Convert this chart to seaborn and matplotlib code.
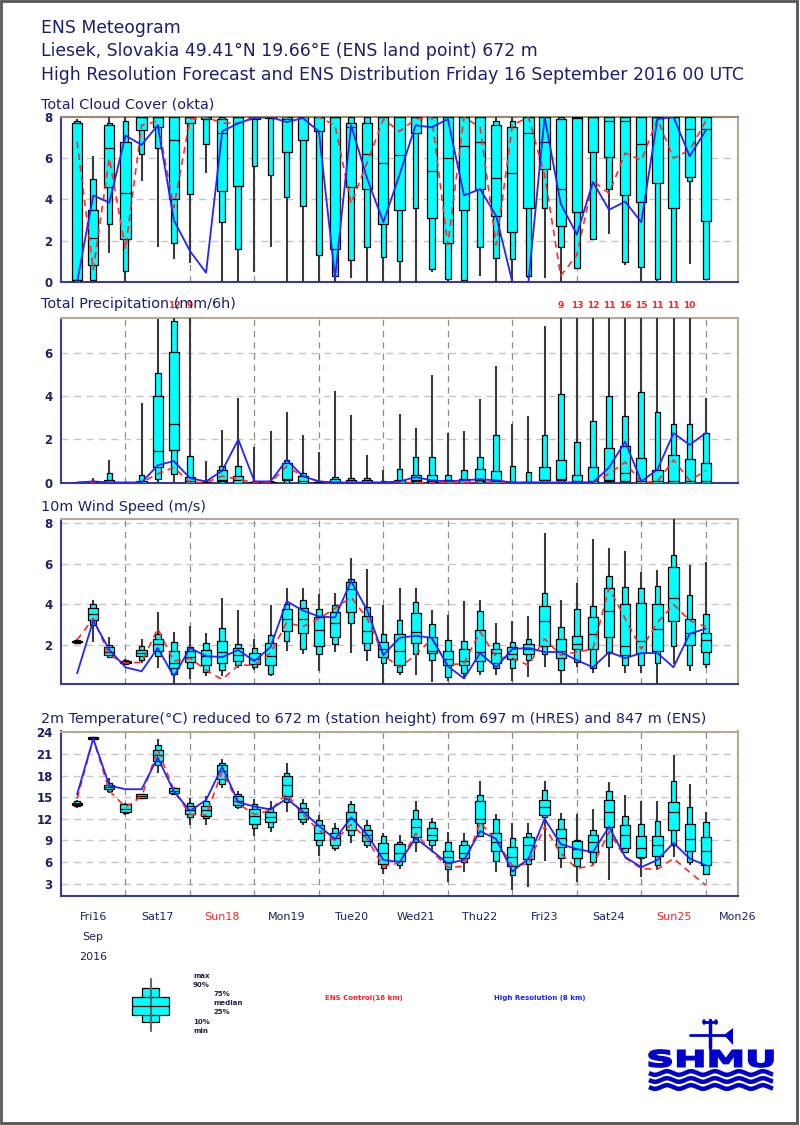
import numpy as np
import pandas as pd
import matplotlib
matplotlib.use("Agg")
import matplotlib.pyplot as plt
import seaborn as sns
from matplotlib.patches import Rectangle, PathPatch, Ellipse, Polygon
from matplotlib.textpath import TextPath
from matplotlib.font_manager import FontProperties
from matplotlib.transforms import Affine2D, blended_transform_factory

sns.set_style("white")
plt.rcParams['font.family'] = ['DejaVu Sans']

# forecast steps (hours after Fri 16 Sep 2016 00 UTC)
hours = list(range(6, 241, 6))

# Total cloud cover (okta): min, p10, p25, median, p75, p90, max, control, hres
cloud_min = [0, 0.1, 1.4, 0, 4.9, 1.7, 1.1, 0.9, 5.3, 0, 0, 0.5, 1.7, 0, 0, 0, 0, 0.2, 0, 0,
             0, 0, 0.5, 0, 0.1, 0.3, 0, 0, 0.2, 0.2, 0, 0.7, 2.1, 2.35, 0.8, 0, 0, 0, 0.85, 0.1]
cloud_p10 = [0, 0.1, 2.8, 0.55, 6.2, 6.5, 1.9, 4.25, 6.7, 2.9, 1.6, 5.6, 5.2, 4.1, 3.7, 1.3, 0.3, 1.05, 1.7, 1.2,
             1.0, 3.6, 0.65, 0.15, 0.1, 1.7, 1.15, 1.1, 0.3, 3.6, 1.7, 0.7, 2.1, 4.5, 0.95, 0.75, 0.15, 0, 4.9, 0.15]
cloud_p25 = [0.1, 0.8, 4.6, 2.1, 7.35, 7.5, 4.0, 7.7, 7.9, 4.4, 4.65, 7.9, 7.95, 6.3, 6.9, 7.3, 1.6, 4.6, 4.5, 2.8,
             3.5, 7.2, 3.1, 1.9, 3.5, 4.5, 3.2, 2.4, 3.6, 5.5, 2.7, 3.4, 6.3, 6.05, 4.2, 3.9, 4.8, 3.6, 5.1, 2.95]
cloud_med = [0.1, 2.15, 6.5, 4.3, 8, 8, 6.9, 8, 8, 7.2, 8, 8, 8, 7.9, 8, 8, 8, 7.5, 6.2, 5.75,
             6.15, 8, 5.4, 6.0, 6.6, 6.8, 5.05, 5.3, 7.2, 6.8, 4.5, 7.95, 8, 7.8, 7.8, 6.7, 8, 8, 7.4, 7.4]
cloud_p75 = [7.7, 3.5, 7.6, 6.8, 8, 8, 8, 8, 8, 7.9, 8, 8, 8, 8, 8, 8, 8, 7.7, 7.7, 8,
             8, 8, 8, 8, 8, 8, 7.6, 7.5, 8, 8, 7.9, 8, 8, 8, 8, 8, 8, 8, 8, 8]
cloud_p90 = [7.8, 5.0, 7.7, 7.8, 8, 8, 8, 8, 8, 8, 8, 8, 8, 8, 8, 8, 8, 8, 8, 8,
             8, 8, 8, 8, 8, 8, 7.8, 7.8, 8, 8, 8, 8, 8, 8, 8, 8, 8, 8, 8, 8]
cloud_max = [7.9, 6.1, 8, 8, 8, 8, 8, 8, 8, 8, 8, 8, 8, 8, 8, 8, 8, 8, 8, 8,
             8, 8, 8, 8, 8, 8, 8, 8, 8, 8, 8, 8, 8, 8, 8, 8, 8, 8, 8, 8]
cloud_ctrl = [6.8, 0.6, 6.0, 1.6, 7.6, 7.8, 3.6, 7.9, 8, 7.7, 7.7, 8, 8, 8, 8, 8, 7.6, 3.8, 5.8, 7.9,
              7.3, 7.9, 8, 1.8, 8, 7.5, 1.8, 7.6, 8, 5.2, 0.3, 1.3, 4.9, 4.3, 6.25, 5.9, 7.9, 6.0, 6.4, 7.8]
cloud_hres = [0, 4.2, 3.85, 7.1, 6.65, 7.6, 3.0, 1.5, 0.45, 7.3, 7.7, 7.95, 8, 7.75, 7.95, 7.3, 0.2, 7.6, 5.0, 2.9,
              5.2, 7.6, 7.5, 7.9, 4.2, 4.5, 3.2, 0, 0, 8, 3.8, 2.3, 4.85, 3.5, 3.9, 2.9, 7.9, 8, 6.1, 7.35]

# Total precipitation (mm/6h)
prec_min = [0] * 40
prec_p10 = [0, 0, 0, 0, 0, 0.15, 0.4, 0, 0, 0, 0, 0, 0, 0, 0, 0, 0, 0, 0, 0,
            0, 0, 0, 0, 0, 0, 0, 0, 0, 0, 0, 0, 0, 0.05, 0.05, 0, 0, 0, 0, 0]
prec_p25 = [0, 0, 0, 0, 0, 0.7, 1.5, 0, 0, 0.05, 0, 0, 0, 0.1, 0, 0, 0, 0, 0, 0,
            0, 0.05, 0.02, 0, 0, 0.05, 0, 0, 0, 0.1, 0.1, 0, 0, 0.05, 0.05, 0, 0, 0, 0, 0]
prec_med = [0, 0, 0, 0, 0, 1.45, 2.7, 0.05, 0, 0.1, 0.1, 0, 0, 0.15, 0.05, 0, 0, 0, 0, 0,
            0, 0.1, 0.05, 0, 0, 0.1, 0.05, 0, 0, 0.1, 0.15, 0.05, 0.05, 0.1, 0.45, 0.05, 0.05, 0.05, 0.05, 0.05]
prec_p75 = [0, 0.02, 0.1, 0, 0.05, 4.0, 6.05, 0.25, 0.02, 0.6, 0.3, 0.02, 0.02, 0.9, 0.3, 0.02, 0.15, 0.12, 0.1, 0.02,
            0.1, 0.35, 0.35, 0.1, 0.15, 0.65, 0.55, 0.02, 0.02, 0.7, 1.05, 0.35, 0.7, 1.6, 1.7, 1.15, 0.6, 1.3, 1.1, 0.9]
prec_p90 = [0, 0.05, 0.45, 0, 0.35, 5.1, 7.5, 1.25, 0.05, 0.75, 0.75, 0.05, 0.05, 1.05, 0.45, 0.05, 0.25, 0.2, 0.2, 0.05,
            0.65, 1.2, 1.2, 0.37, 0.6, 1.2, 2.2, 0.75, 0.5, 2.2, 4.1, 1.9, 2.85, 4.0, 3.1, 4.2, 3.3, 2.7, 2.7, 2.3]
prec_max = [0, 0.2, 1.05, 0, 3.7, 7.6, 12, 9, 1.0, 2.45, 3.95, 1.65, 2.4, 3.3, 2.2, 1.4, 4.25, 3.15, 1.3, 0.6,
            3.2, 2.55, 5.0, 2.3, 2.4, 3.9, 5.4, 2.7, 3.1, 7.3, 9, 13, 12, 11, 16, 15, 11, 11, 10, 3.95]
prec_ctrl = [0, 0, 0, 0, 0, 0.4, 0.7, 0, 0, 0.3, 0.15, 0, 0, 0.75, 0.3, 0.05, 0, 0, 0, 0,
             0, 0, 0, 0, 0, 0.05, 0, 0, 0, 0, 0, 0, 0, 0.4, 0.95, 0, 0.05, 1.05, 0.1, 0.55]
prec_hres = [0, 0.05, 0, 0, 0, 0.8, 1.0, 0.2, 0.05, 0.55, 2.0, 0.05, 0.05, 1.05, 0.3, 0.05, 0, 0, 0, 0,
             0.05, 0.25, 0.1, 0.05, 0.1, 0.15, 0.1, 0, 0, 0, 0, 0, 0, 0.7, 1.9, 0.05, 0.6, 2.3, 1.75, 2.3]

# 10m wind speed (m/s)
wind_min = [2.05, 2.15, 1.35, 1.0, 1.1, 0.85, 0.1, 0.3, 0.45, 0.45, 0.85, 0.75, 0.45, 1.7, 1.55, 0.7, 1.65, 1.6, 1.2, 0.1,
            0.5, 0.5, 0.15, 0.2, 0.3, 0.5, 0.5, 0.2, 0.4, 0.9, 0.1, 0.9, 0.6, 0.9, 0.6, 0.6, 0.1, 1.05, 0.7, 0.85]
wind_p10 = [2.1, 3.0, 1.4, 1.05, 1.25, 1.45, 0.55, 0.85, 0.65, 0.75, 1.0, 0.9, 0.55, 2.2, 1.8, 1.55, 2.05, 3.1, 1.75, 1.1,
            0.65, 1.55, 1.25, 0.4, 0.6, 0.7, 0.85, 0.85, 1.25, 1.55, 0.75, 1.15, 0.85, 1.6, 1.0, 1.0, 1.1, 1.95, 1.0, 1.05]
wind_p25 = [2.12, 3.25, 1.5, 1.1, 1.45, 1.7, 0.85, 1.15, 1.0, 1.1, 1.2, 1.05, 1.0, 2.7, 2.6, 1.95, 2.4, 3.6, 2.1, 1.4,
            1.0, 2.1, 1.6, 1.0, 1.0, 1.2, 1.1, 1.3, 1.55, 1.95, 1.35, 1.8, 1.8, 2.4, 1.5, 1.6, 1.7, 3.2, 2.0, 1.65]
wind_med = [2.15, 3.5, 1.65, 1.15, 1.6, 2.05, 1.1, 1.4, 1.45, 1.65, 1.5, 1.3, 1.45, 3.3, 3.3, 2.75, 3.1, 4.75, 2.7, 1.8,
            1.7, 2.65, 1.7, 1.3, 1.2, 1.65, 1.6, 1.55, 1.8, 3.2, 1.7, 2.05, 2.55, 3.65, 1.95, 2.2, 2.8, 4.3, 2.6, 2.25]
wind_p75 = [2.2, 3.8, 1.9, 1.2, 1.75, 2.3, 1.7, 1.7, 1.75, 2.2, 1.85, 1.6, 2.1, 3.75, 3.8, 3.35, 3.6, 5.1, 3.4, 2.15,
            2.55, 3.55, 2.4, 1.7, 1.8, 2.75, 1.8, 1.9, 2.05, 3.9, 2.3, 2.45, 3.35, 4.8, 4.0, 4.05, 4.0, 5.85, 3.3, 2.6]
wind_p90 = [2.25, 4.0, 2.0, 1.25, 1.95, 2.55, 2.15, 1.9, 2.1, 2.85, 2.05, 1.85, 2.5, 4.0, 4.2, 3.75, 3.95, 5.25, 3.85, 2.55,
            3.25, 4.1, 3.05, 2.25, 2.2, 3.65, 2.1, 2.15, 2.3, 4.55, 2.9, 3.75, 3.9, 5.4, 4.85, 4.8, 4.9, 6.45, 4.45, 3.5]
wind_max = [2.3, 4.2, 2.4, 1.3, 2.3, 3.6, 2.65, 2.95, 2.6, 4.3, 3.7, 2.3, 3.95, 4.8, 4.8, 4.5, 4.55, 6.3, 5.75, 3.95,
            4.8, 4.8, 3.7, 3.45, 4.15, 4.2, 3.1, 3.2, 3.4, 7.5, 4.2, 5.05, 7.2, 6.75, 6.6, 5.6, 5.7, 8.2, 5.95, 6.1]
wind_ctrl = [2.25, 3.3, 1.5, 1.1, 1.15, 2.8, 1.2, 1.35, 0.75, 0.3, 1.0, 1.0, 1.6, 3.1, 2.9, 3.3, 3.8, 4.35, 3.3, 1.5,
             0.9, 1.5, 2.3, 1.0, 1.1, 2.65, 1.4, 1.35, 1.0, 2.3, 1.5, 1.65, 1.8, 4.8, 3.3, 1.8, 3.1, 4.0, 3.2, 2.9]
wind_hres = [0.6, 3.2, 1.75, 0.9, 0.7, 1.85, 0.45, 1.85, 1.45, 1.4, 1.75, 1.2, 1.9, 4.15, 3.7, 3.4, 3.35, 5.15, 3.7, 1.5,
             2.35, 2.45, 2.35, 0.95, 0.35, 1.6, 0.9, 1.8, 1.85, 1.65, 1.65, 1.25, 0.9, 1.65, 1.35, 1.6, 1.6, 0.9, 2.55, 2.8]

# 2m temperature (deg C)
temp_min = [13.5, 23.0, 15.6, 12.5, 14.8, 18.3, 15.4, 11.1, 11.2, 16.2, 13.3, 9.6, 10.2, 12.9, 11.2, 6.9, 7.6, 8.6, 8.0, 4.4,
            5.0, 7.4, 7.5, 3.2, 4.6, 9.5, 4.6, 2.2, 2.5, 6.2, 5.2, 3.2, 5.55, 3.5, 7.2, 3.9, 4.85, 6.7, 5.55, 4.2]
temp_p10 = [13.8, 23.05, 15.9, 12.8, 14.85, 19.5, 15.5, 12.3, 12.1, 16.8, 13.6, 10.7, 10.9, 14.3, 11.6, 8.3, 7.9, 9.7, 8.4, 5.2,
            5.6, 8.8, 8.4, 5.1, 6.0, 9.6, 6.2, 4.2, 5.8, 12.3, 6.5, 5.5, 6.0, 8.1, 7.4, 6.5, 5.55, 8.3, 6.0, 4.4]
temp_p25 = [13.95, 23.1, 16.1, 13.0, 14.9, 20.0, 15.6, 12.6, 12.4, 17.5, 13.9, 11.3, 11.6, 15.2, 12.0, 9.0, 8.4, 10.5, 8.9, 5.8,
            6.2, 9.5, 9.0, 6.0, 6.5, 11.35, 7.5, 5.5, 6.4, 12.5, 8.1, 6.6, 7.4, 10.9, 7.9, 6.7, 6.9, 10.4, 7.6, 5.6]
temp_med = [14.1, 23.2, 16.4, 13.4, 15.2, 20.8, 15.9, 13.2, 13.2, 18.6, 14.5, 12.4, 12.3, 16.7, 12.9, 10.0, 9.3, 12.0, 9.7, 7.2,
            7.3, 10.9, 9.8, 6.7, 7.3, 12.0, 8.8, 6.7, 8.3, 13.6, 9.4, 7.8, 8.8, 13.0, 9.8, 8.0, 8.3, 12.9, 9.2, 7.5]
temp_p75 = [14.25, 23.3, 16.7, 14.0, 15.4, 21.6, 16.2, 13.8, 13.8, 19.4, 15.1, 13.3, 13.0, 17.9, 13.5, 11.2, 10.0, 13.0, 10.4, 8.7,
            8.5, 12.0, 10.7, 7.6, 8.3, 14.4, 10.1, 8.1, 9.5, 14.6, 10.6, 8.9, 9.8, 14.6, 11.1, 9.6, 9.6, 14.3, 11.25, 9.5]
temp_p90 = [14.4, 23.35, 17.0, 14.1, 15.45, 22.2, 16.3, 14.2, 14.5, 19.8, 15.5, 14.0, 13.5, 18.4, 14.2, 11.8, 10.7, 14.0, 11.2, 9.6,
            8.8, 13.2, 11.6, 8.8, 8.9, 15.3, 12.0, 9.3, 10.05, 16.0, 12.0, 9.1, 10.4, 15.8, 12.4, 11.25, 11.7, 17.2, 13.6, 11.6]
temp_max = [14.6, 23.4, 17.7, 14.2, 15.5, 23.0, 16.4, 14.9, 15.1, 20.3, 15.9, 14.8, 14.4, 19.8, 14.8, 12.5, 11.4, 14.5, 11.9, 10.1,
            9.8, 14.5, 12.1, 10.2, 10.0, 17.3, 12.6, 11.35, 11.35, 17.3, 12.8, 12.7, 13.3, 17.1, 15.3, 14.5, 14.5, 20.9, 16.8, 12.9]
temp_ctrl = [14.8, 23.1, 15.9, 13.6, 15.1, 21.6, 16.0, 12.6, 12.5, 18.6, 14.1, 12.6, 13.2, 15.5, 12.6, 10.4, 9.0, 11.2, 9.2, 5.4,
             5.9, 10.0, 7.5, 5.3, 5.4, 11.5, 9.0, 5.5, 5.8, 10.9, 7.2, 5.1, 5.55, 10.2, 6.6, 5.1, 5.0, 6.5, 4.6, 2.8]
temp_hres = [15.4, 23.1, 16.6, 16.1, 16.1, 20.5, 15.8, 13.1, 14.6, 19.2, 14.3, 13.7, 13.3, 14.8, 13.0, 11.0, 9.2, 12.2, 9.8, 6.3,
             6.0, 9.3, 7.6, 5.8, 6.3, 10.3, 9.2, 4.7, 6.5, 12.0, 8.5, 7.8, 7.4, 10.9, 6.7, 5.3, 6.3, 8.65, 6.5, 5.55]

day_labels = ['Fri16', 'Sat17', 'Sun18', 'Mon19', 'Tue20', 'Wed21', 'Thu22', 'Fri23', 'Sat24', 'Sun25', 'Mon26']

NAVY = '#1e1e6e'
EDGE = '#b4aa96'

fig = plt.figure(figsize=(8, 11.25), dpi=100)


def px_axes(top, bottom, left=61, right=738):
    return fig.add_axes([left / 800, 1 - bottom / 1125, (right - left) / 800, (bottom - top) / 1125])


def draw_panel(ax, q, ctrl, hres, ylim, yticks):
    mn, p10, p25, med, p75, p90, mx = [np.array(v, dtype=float) for v in q]
    h = np.array(hours, dtype=float)
    for t in yticks:
        if ylim[0] < t < ylim[1] + 0.2:
            ax.axhline(t, color='#c6c6c6', lw=1.0, ls=(0, (5, 4)), zorder=1)
    for d in range(24, 252, 24):
        ax.axvline(d, color='#8c8c8c', lw=0.9, ls=(0, (5, 4)), zorder=1)
    ax.vlines(h, mn, mx, color='#3a3a3a', lw=1.5, zorder=3)
    ax.bar(h, p90 - p10, bottom=p10, width=2.1, color='#00ffff', edgecolor='black', linewidth=0.9, zorder=4)
    ax.bar(h, p75 - p25, bottom=p25, width=3.8, color='#00ffff', edgecolor='black', linewidth=0.9, zorder=5)
    ax.hlines(med, h - 1.9, h + 1.9, color='black', lw=0.9, zorder=6)
    df = pd.DataFrame({'hour': hours, 'ctrl': ctrl, 'hres': hres})
    sns.lineplot(data=df, x='hour', y='ctrl', ax=ax, color='#ff2a2a', lw=1.2, linestyle=(0, (4, 3)), zorder=7)
    sns.lineplot(data=df, x='hour', y='hres', ax=ax, color='#2424ff', lw=1.3, zorder=8)

    ax.set_xlim(0, 252)
    ax.set_ylim(*ylim)
    ax.set_xticks(range(0, 241, 24))
    ax.set_xticks(range(0, 253, 6), minor=True)
    ax.set_xticklabels([])
    ax.set_yticks(yticks)
    ax.set_yticklabels([str(t) for t in yticks], color=NAVY, fontsize=8.5, fontweight='bold')
    ax.set_xlabel('')
    ax.set_ylabel('')
    ax.tick_params(axis='x', which='major', direction='out', length=6, width=1.3, color='#3c3c8c')
    ax.tick_params(axis='x', which='minor', direction='out', length=4, width=1.0, color='#3c3c8c')
    ax.tick_params(axis='y', direction='out', length=4, width=1.0, color='#3c3c8c', pad=2)
    for s in ['left', 'bottom']:
        ax.spines[s].set_color('#3c3c8c')
        ax.spines[s].set_linewidth(1.5)
    for s in ['top', 'right']:
        ax.spines[s].set_color(EDGE)
        ax.spines[s].set_linewidth(1.5)


ax1 = px_axes(117, 282)
draw_panel(ax1, [cloud_min, cloud_p10, cloud_p25, cloud_med, cloud_p75, cloud_p90, cloud_max],
           cloud_ctrl, cloud_hres, (0, 8), [0, 2, 4, 6, 8])
ax1.spines['top'].set_color('#9a8a70')

ax2 = px_axes(318, 482.5)
draw_panel(ax2, [prec_min, prec_p10, prec_p25, prec_med, prec_p75, prec_p90, prec_max],
           prec_ctrl, prec_hres, (0, 7.65), [0, 2, 4, 6])
tr2 = blended_transform_factory(ax2.transData, ax2.transAxes)
for h, m in zip(hours, prec_max):
    if m > 7.65:
        ax2.text(h, 1.075, f'{m:.0f}', transform=tr2, ha='center', va='center',
                 color='#ff2020', fontsize=6.5, fontweight='bold', clip_on=False)

ax3 = px_axes(519, 683.5)
draw_panel(ax3, [wind_min, wind_p10, wind_p25, wind_med, wind_p75, wind_p90, wind_max],
           wind_ctrl, wind_hres, (0.1, 8.2), [2, 4, 6, 8])

ax4 = px_axes(731.5, 896)
draw_panel(ax4, [temp_min, temp_p10, temp_p25, temp_med, temp_p75, temp_p90, temp_max],
           temp_ctrl, temp_hres, (1.3, 24.1), [3, 6, 9, 12, 15, 18, 21, 24])
tr4 = blended_transform_factory(ax4.transData, ax4.transAxes)
for i, lab in enumerate(day_labels):
    col = '#ff2020' if lab.startswith('Sun') else NAVY
    ax4.text(24 * i + 12, -0.128, lab, transform=tr4, ha='center', va='center',
             color=col, fontsize=8, clip_on=False)
ax4.text(12, -0.249, 'Sep', transform=tr4, ha='center', va='center', color=NAVY, fontsize=8, clip_on=False)
ax4.text(12, -0.371, '2016', transform=tr4, ha='center', va='center', color=NAVY, fontsize=8, clip_on=False)

# header and panel titles
fig.text(41 / 800, 1 - 28 / 1125, 'ENS Meteogram', color=NAVY, fontsize=12.4, va='center')
fig.text(41 / 800, 1 - 51.5 / 1125, 'Liesek, Slovakia 49.41°N 19.66°E (ENS land point) 672 m',
         color=NAVY, fontsize=12.4, va='center')
fig.text(41 / 800, 1 - 75 / 1125, 'High Resolution Forecast and ENS Distribution Friday 16 September 2016 00 UTC',
         color=NAVY, fontsize=12.4, va='center')
panel_titles = [(104, 'Total Cloud Cover (okta)'), (304, 'Total Precipitation (mm/6h)'),
                (507, '10m Wind Speed (m/s)'),
                (719, '2m Temperature(°C) reduced to 672 m (station height) from 697 m (HRES) and 847 m (ENS)')]
for y, t in panel_titles:
    fig.text(41 / 800, 1 - y / 1125, t, color=NAVY, fontsize=10.4, va='center')

# overlay in pixel coordinates: legend, logo, frame
ov = fig.add_axes([0, 0, 1, 1], zorder=10)
ov.set_xlim(0, 800)
ov.set_ylim(1125, 0)
ov.axis('off')
ov.patch.set_alpha(0)

ov.plot([150.5, 150.5], [979, 1031], color='#666666', lw=1.5)
ov.add_patch(Rectangle((142, 988), 17, 34, facecolor='#00ffff', edgecolor='black', lw=0.9))
ov.add_patch(Rectangle((132, 997), 37, 18, facecolor='#00ffff', edgecolor='black', lw=0.9))
ov.plot([132, 169], [1006, 1006], color='black', lw=0.9)
for x, y, t in [(193, 976, 'max'), (193, 985, '90%'), (213, 994, '75%'), (213, 1003, 'median'),
                (213, 1012, '25%'), (193, 1022, '10%'), (193, 1031, 'min')]:
    ov.text(x, y, t, fontsize=5, fontweight='bold', color='#202040', va='center')
ov.text(325, 998, 'ENS Control(16 km)', fontsize=5, fontweight='bold', color='#ff2020', va='center')
ov.text(494, 998, 'High Resolution (8 km)', fontsize=5, fontweight='bold', color='#2020ff', va='center')

# SHMU logo
LOGO = '#0000cc'
tp = TextPath((0, 0), 'SHMU', size=1, prop=FontProperties(family='DejaVu Sans', weight='bold'))
ext = tp.get_extents()
sx = 124 / ext.width
sy = 17 / ext.height
tf = Affine2D().translate(-ext.x0, -ext.y0).scale(sx, -sy).translate(649, 1067)
ov.add_patch(PathPatch(tf.transform_path(tp), facecolor=LOGO, edgecolor=LOGO, lw=1.2))
wx = np.linspace(649, 773, 200)
for yy in [1073, 1080, 1087]:
    ov.plot(wx, yy + 1.8 * np.sin((wx - 649) / 24 * 2 * np.pi), color=LOGO, lw=3.2, solid_capstyle='butt')
ov.plot([710, 710], [1020, 1048], color=LOGO, lw=2.5)
ov.plot([690, 728], [1035, 1035], color=LOGO, lw=2)
ov.add_patch(Polygon([[724, 1035], [733, 1028], [733, 1045]], closed=True, facecolor=LOGO, edgecolor='none'))
ov.add_patch(Ellipse((704, 1022), 5, 7, facecolor=LOGO))
ov.add_patch(Ellipse((716, 1022), 5, 7, facecolor=LOGO))
ov.plot([704, 716], [1022, 1022], color=LOGO, lw=2)

ov.add_patch(Rectangle((1, 1), 796, 1122, facecolor='none', edgecolor='#555555', lw=2))

fig.savefig('out.png', dpi=100)
